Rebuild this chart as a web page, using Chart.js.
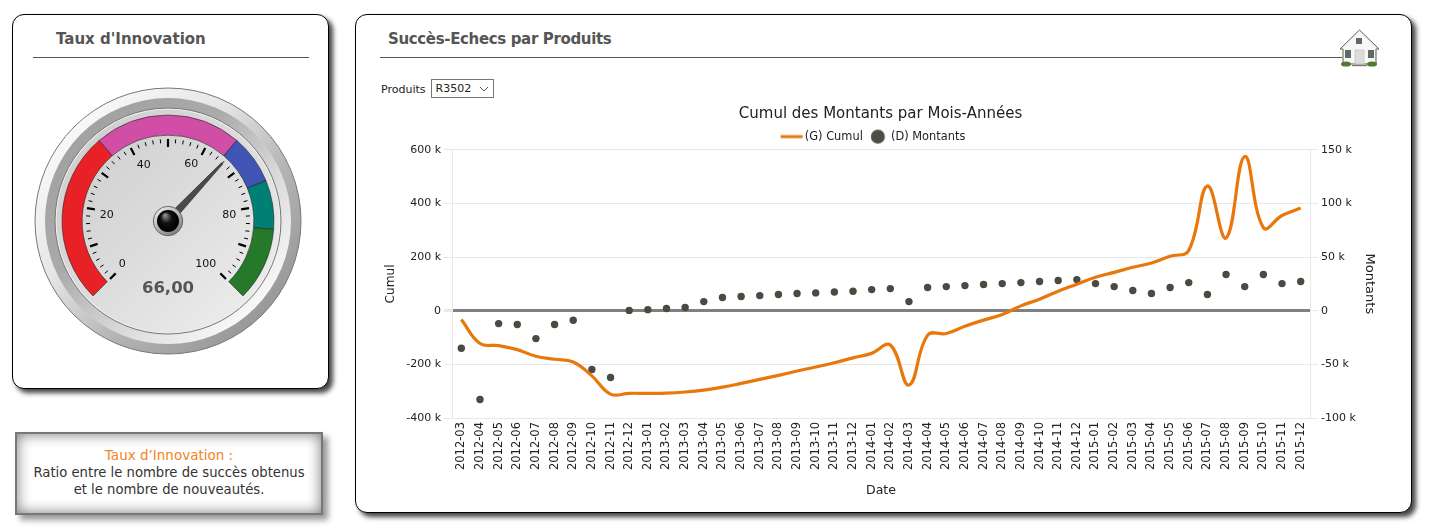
<!DOCTYPE html>
<html lang="fr"><head><meta charset="utf-8"><title>Succès-Echecs</title>
<script src="https://cdn.jsdelivr.net/npm/chart.js@4"></script>
<style>
html,body{margin:0;padding:0;background:#fff;width:1436px;height:532px;overflow:hidden;font-family:"DejaVu Sans",sans-serif}
.panel{position:absolute;box-sizing:border-box;background:#fff;border:1px solid #000;border-radius:12px;box-shadow:4px 4px 5px #444}
.head{position:absolute;font:bold 15px "DejaVu Sans",sans-serif;color:#555;white-space:nowrap}
.rule{position:absolute;height:1px;background:#555}
canvas{position:absolute}
#note{position:absolute;left:15px;top:432px;width:308px;height:83px;box-sizing:border-box;border:2px solid #777;background:#fff;box-shadow:inset 0 0 14px #777,5px 5px 6px #999;text-align:center;font:13.2px/17px "DejaVu Sans",sans-serif;color:#333;padding-top:13px}
#note span{color:#f58220;font-size:13.5px}
#sel{position:absolute;left:381px;top:80px;font:11px "DejaVu Sans",sans-serif;color:#222;display:flex;align-items:center;height:18px}
#sel select{appearance:none;-webkit-appearance:none;margin-left:5px;box-sizing:border-box;width:63px;height:19px;margin-top:-1px;font:11px "DejaVu Sans",sans-serif;color:#222;border:1px solid #767676;padding:0 0 0 4px;border-radius:0;
background:#fff url("data:image/svg+xml,%3Csvg xmlns='http://www.w3.org/2000/svg' width='10' height='6'%3E%3Cpath d='M1 1l4 4 4-4' fill='none' stroke='%23555' stroke-width='1'/%3E%3C/svg%3E") no-repeat right 4px center}
#home{position:absolute;left:1339px;top:29px;width:41px;height:40px}
</style></head><body>
<div class="panel" style="left:12px;top:14px;width:317px;height:375px"></div>
<div class="panel" style="left:355px;top:14px;width:1057px;height:499px"></div>
<div class="head" style="left:56px;top:30px">Taux d'Innovation</div>
<div class="rule" style="left:33px;top:57px;width:276px"></div>
<div class="head" style="left:388px;top:30px;letter-spacing:-.35px">Succès-Echecs par Produits</div>
<div class="rule" style="left:380px;top:57px;width:962px"></div>
<svg id="home" viewBox="0 0 41 40">
<path d="M20.5 1L1 20l3 0L4 35l33 0L37 20l3 0z" fill="#f2f2f2" stroke="#6b5a4e" stroke-width="1"/>
<path d="M20.5 3L5 19v15h31V19z" fill="#f7f7f7"/>
<rect x="17" y="9" width="6" height="6" fill="#5f6b62"/>
<rect x="6" y="21" width="6" height="8" fill="#5f6b62"/><rect x="29" y="21" width="6" height="8" fill="#5f6b62"/>
<rect x="16" y="21" width="9" height="14" fill="#dcdcdc" stroke="#bbb" stroke-width=".6"/>
<ellipse cx="7" cy="35" rx="5" ry="2.6" fill="#4f7a2c"/><ellipse cx="33" cy="35" rx="5" ry="2.6" fill="#4f7a2c"/>
<rect x="13" y="36" width="15" height="1.2" fill="#777"/>
</svg>
<div id="sel"><label for="p">Produits</label><select id="p"><option>R3502</option></select></div>
<canvas id="gauge" width="336" height="411" style="left:0;top:0;width:336px;height:411px"></canvas>
<canvas id="main" width="993" height="398" style="left:384px;top:100px;width:993px;height:398px"></canvas>
<div id="note"><span>Taux d’Innovation :</span><br>Ratio entre le nombre de succès obtenus<br>et le nombre de nouveautés.</div>
<script>
const months = ["2012-03","2012-04","2012-05","2012-06","2012-07","2012-08","2012-09","2012-10","2012-11","2012-12",
"2013-01","2013-02","2013-03","2013-04","2013-05","2013-06","2013-07","2013-08","2013-09","2013-10","2013-11","2013-12",
"2014-01","2014-02","2014-03","2014-04","2014-05","2014-06","2014-07","2014-08","2014-09","2014-10","2014-11","2014-12",
"2015-01","2015-02","2015-03","2015-04","2015-05","2015-06","2015-07","2015-08","2015-09","2015-10","2015-11","2015-12"];
const cumul = [-33000,-122000,-130000,-145000,-170000,-181000,-191000,-243000,-311000,-308000,
-308000,-307000,-303000,-296000,-285000,-271000,-256000,-241000,-225000,-210000,-194000,-176000,
-159000,-128000,-277000,-91000,-85000,-58000,-35000,-14000,18000,43000,73000,99000,
125000,143000,162000,178000,203000,225000,465000,271000,575000,310000,355000,383000];
const montants = [-35000,-82700,-12000,-12900,-26000,-12900,-8900,-54800,-62200,300,
1000,2000,3000,8500,12300,13200,14100,15100,16000,16600,17500,18200,
19700,20600,8500,21600,22500,23400,24400,25300,26200,27200,28100,29000,
25300,22500,18800,16000,21600,26200,15100,33700,22500,33700,25300,27200];
const gaugeValue = 66;
const gaugeBands = [35,30,10,10,15];
const gaugeColors = ["#e82127","#d14ea6","#4054b6","#008074","#26782b"];
const gaugeLabels = [0,20,40,60,80,100];
const gaugeText = "66,00";

const FONT = '"DejaVu Sans",sans-serif';
Chart.defaults.animation = false;
Chart.defaults.font.family = FONT;
Chart.defaults.font.size = 11;
Chart.defaults.color = "#222";

/* ---------- gauge ---------- */
const ang = v => (135 + v * 2.7) * Math.PI / 180;
const labelNudge = { 0: [-2,-1], 20: [0,4], 40: [4,-1], 60: [-5,-2], 80: [0,4], 100: [-6,-1] };
const dialPlugin = {
  id: "dial",
  beforeDatasetsDraw(c) {
    const el = c.getDatasetMeta(0).data[0], x = el.x, y = el.y, g = c.ctx;
    const grad = (x0,y0,x1,y1,stops) => { const l = g.createLinearGradient(x+x0,y+y0,x+x1,y+y1); stops.forEach((s,i)=>l.addColorStop(i/(stops.length-1),s)); return l; };
    const disc = (r,fill,stroke,lw) => { g.beginPath(); g.arc(x,y,r,0,Math.PI*2); g.fillStyle=fill; g.fill(); if(stroke){g.strokeStyle=stroke;g.lineWidth=lw||1;g.stroke();} };
    g.save();
    disc(133, grad(-94,-94,94,94,["#f8f8f8","#e6e6e6","#b4b4b4","#999"]), "#777");
    disc(123, grad(-87,-87,87,87,["#a2a2a2","#aaaaaa","#d8d8d8","#f8f8f8"]));
    disc(113, "#eeeeee", "#777");
    disc(111.5, grad(-80,-80,80,80,["#d0d0d0","#dcdcdc","#ebebeb"]));
    g.restore();
  },
  afterDatasetsDraw(c) {
    const el = c.getDatasetMeta(0).data[0], x = el.x, y = el.y, g = c.ctx;
    g.save();
    g.strokeStyle = "#000";
    for (let v = 0; v <= 100; v += 2) {
      const a = ang(v), major = v % 10 === 0;
      g.lineWidth = major ? 2.2 : 1;
      g.beginPath();
      g.moveTo(x + Math.cos(a) * (major ? 74 : 78), y + Math.sin(a) * (major ? 74 : 78));
      g.lineTo(x + Math.cos(a) * 82, y + Math.sin(a) * 82);
      g.stroke();
    }
    g.fillStyle = "#111"; g.font = "11px " + FONT; g.textAlign = "center"; g.textBaseline = "middle";
    gaugeLabels.forEach(v => { const a = ang(v), n = labelNudge[v]; g.fillText(String(v), x + Math.cos(a) * 62 + n[0], y + Math.sin(a) * 62 + n[1]); });
    g.fillStyle = "#555"; g.font = "bold 16.5px " + FONT;
    g.fillText(gaugeText, x, y + 68);
    const a = ang(gaugeValue), nx = -Math.sin(a), ny = Math.cos(a);
    g.fillStyle = "#4a4a4a"; g.strokeStyle = "#222"; g.lineWidth = .6;
    g.beginPath();
    g.moveTo(x + nx * 4, y + ny * 4);
    g.lineTo(x + Math.cos(a) * 79 + nx * .9, y + Math.sin(a) * 79 + ny * .9);
    g.lineTo(x + Math.cos(a) * 79 - nx * .9, y + Math.sin(a) * 79 - ny * .9);
    g.lineTo(x - nx * 4, y - ny * 4);
    g.closePath(); g.fill(); g.stroke();
    const hub = g.createLinearGradient(x-10,y-14,x+10,y+14); hub.addColorStop(0,"#eee"); hub.addColorStop(1,"#777");
    g.beginPath(); g.arc(x,y,14.7,0,Math.PI*2); g.fillStyle=hub; g.fill(); g.strokeStyle="#666"; g.lineWidth=1; g.stroke();
    const ball = g.createRadialGradient(x-3,y-6,1,x,y,11); ball.addColorStop(0,"#888"); ball.addColorStop(.45,"#111"); ball.addColorStop(1,"#000");
    g.beginPath(); g.arc(x,y,11,0,Math.PI*2); g.fillStyle=ball; g.fill();
    g.restore();
  }
};
new Chart(document.getElementById("gauge"), {
  type: "doughnut",
  data: { labels: ["0-35","35-65","65-75","75-85","85-100"],
    datasets: [{ data: gaugeBands, backgroundColor: gaugeColors, borderColor: "rgba(30,30,30,.55)", borderWidth: 1 }] },
  options: { responsive: false, rotation: -135, circumference: 270, cutout: "81%", radius: 106,
    plugins: { legend: { display: false }, tooltip: { enabled: false } } },
  plugins: [dialPlugin]
});

/* ---------- main chart ---------- */
function swatch(draw) { const s = document.createElement("canvas"); s.width = 26; s.height = 16; draw(s.getContext("2d")); return s; }
const lineSwatch = swatch(g => { g.fillStyle = "#e8780c"; g.fillRect(3.75, 6.5, 22, 3); });
const dotSwatch = swatch(g => { g.fillStyle = "#4d4d45"; g.beginPath(); g.arc(14.75, 8, 7, 0, Math.PI * 2); g.fill(); });
const kFmt = v => v === 0 ? "0" : (v / 1000) + " k";
const GRID = "#e8e8e8";
const legendShift = { id: "legendShift", afterLayout(c) { c.legend.left -= 15; c.legend.top += 2.5; } };
new Chart(document.getElementById("main"), {
  type: "line",
  data: { labels: months, datasets: [
    { label: "(G) Cumul", data: cumul, yAxisID: "yL", borderColor: "#e8780c", backgroundColor: "#e8780c", borderWidth: 3.2, pointRadius: 0, tension: 0.42, fill: false },
    { label: "(D) Montants", data: montants, yAxisID: "yR", showLine: false, pointRadius: 3.7, pointBackgroundColor: "#4a4a40", pointBorderColor: "#4a4a40", pointBorderWidth: 0, backgroundColor: "#4a4a40", borderColor: "#4a4a40" }
  ] },
  options: {
    responsive: false,
    layout: { padding: 0 },
    plugins: {
      tooltip: { enabled: false },
      title: { display: true, text: "Cumul des Montants par Mois-Années", font: { size: 15, weight: "normal" }, color: "#222", padding: { top: 5, bottom: 1.4 } },
      legend: { display: true, position: "top", labels: { usePointStyle: true, pointStyleWidth: 18.5, boxHeight: 11, padding: 4, color: "#222", font: { size: 11.4 },
        generateLabels(c) { const base = Chart.defaults.plugins.legend.labels.generateLabels(c); base[0].pointStyle = lineSwatch; base[1].pointStyle = dotSwatch; return base; } } }
    },
    scales: {
      x: { offset: true, grid: { display: false, drawTicks: false }, border: { color: GRID, width: 1 },
        ticks: { autoSkip: false, maxRotation: 90, minRotation: 90, padding: 4, color: "#222", font: { size: 11.5 } },
        title: { display: true, text: "Date", color: "#222", font: { size: 12.5 }, padding: { top: 4, bottom: 0 } },
        afterFit(s) { s.height = 80; } },
      yL: { position: "left", min: -400000, max: 600000, afterBuildTicks(s) { s.ticks = [-400000,-200000,0,200000,400000,600000].map(value => ({ value })); },
        ticks: { callback: kFmt, padding: 3, color: "#222", font: { size: 11 } },
        grid: { color: c => c.tick && c.tick.value === 0 ? "#808080" : GRID, lineWidth: c => c.tick && c.tick.value === 0 ? 3 : 1, tickColor: GRID, tickLength: 8 },
        border: { color: GRID },
        title: { display: true, text: "Cumul", color: "#222", font: { size: 12.2 }, padding: { top: 0, bottom: 0 } },
        afterFit(s) { s.width = 68; } },
      yR: { position: "right", min: -100000, max: 150000, afterBuildTicks(s) { s.ticks = [-100000,-50000,0,50000,100000,150000].map(value => ({ value })); },
        ticks: { callback: kFmt, padding: 3, color: "#222", font: { size: 11 } },
        grid: { drawOnChartArea: false, tickColor: GRID, tickLength: 8 },
        border: { color: GRID },
        title: { display: true, text: "Montants", color: "#222", font: { size: 13 }, padding: { top: 0, bottom: 0 } },
        afterFit(s) { s.width = 67; } }
    }
  },
  plugins: [legendShift]
});
</script>
</body></html>
